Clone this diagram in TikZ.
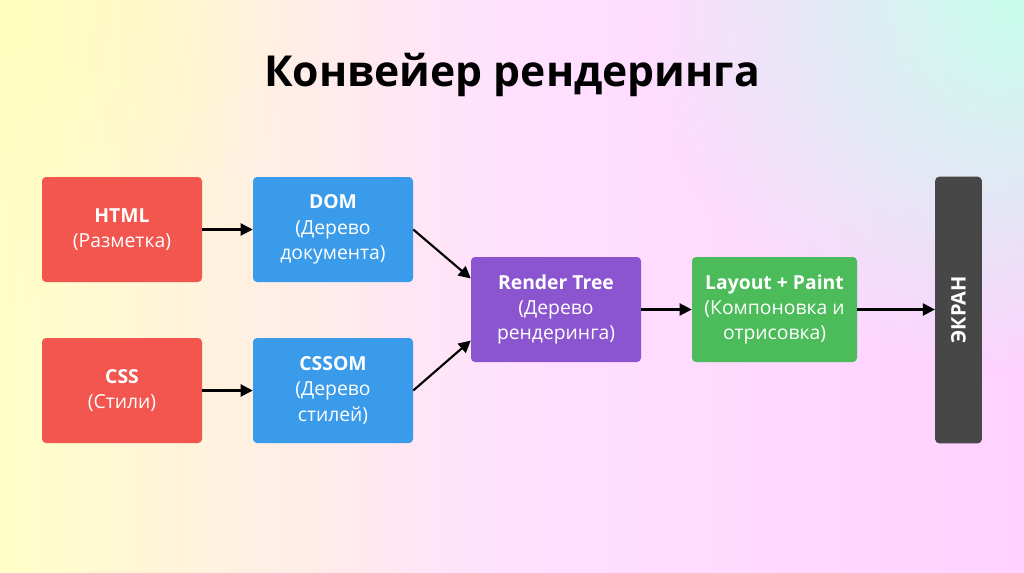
\documentclass[tikz,border=0pt]{standalone}
\usepackage{fontspec}
\setmainfont{Open Sans}
\usetikzlibrary{positioning,arrows.meta,fadings}
\definecolor{cred}{HTML}{F2564E}
\definecolor{cblue}{HTML}{3A9BEA}
\definecolor{cpurple}{HTML}{8C55D0}
\definecolor{cgreen}{HTML}{4CBB5A}
\definecolor{cgrey}{HTML}{474747}
\tikzfading[name=softglow, inner color=transparent!0, outer color=transparent!100]
\tikzset{
  stage/.style = {draw=none, rounded corners=3pt, text=white, align=center,
                  minimum width=120pt, minimum height=78.75pt, font=\fontsize{14.5}{19}\selectfont},
  link/.style  = {-{Triangle[length=9pt,width=9pt]}, line width=1.6pt, black}
}
\begin{document}
\begin{tikzpicture}[x=0.75pt, y=-0.75pt]
\useasboundingbox (0,0) rectangle (1024,572);
% background
\clip (0,0) rectangle (1024,572);
\shade[left color=yellow!22!white, right color=magenta!18!white, middle color=magenta!12!white]
  (0,0) rectangle (1024,572);
\fill[green!35!cyan!22!white, path fading=softglow] (1024,0) circle (380);
\fill[yellow!25!white, path fading=softglow] (0,0) circle (300);
% title
\node (title) at (512,75) {\fontsize{32}{38}\selectfont\bfseries Конвейер рендеринга};
% stages
\node (html)   [stage, fill=cred]    at (122,229.5) {\textbf{HTML}\\(Разметка)};
\node (css)    [stage, fill=cred]    at (122,390.5) {\textbf{CSS}\\(Стили)};
\node (dom)    [stage, fill=cblue]   at (333,229.5) {\textbf{DOM}\\(Дерево\\документа)};
\node (cssom)  [stage, fill=cblue]   at (333,390.5) {\textbf{CSSOM}\\(Дерево\\стилей)};
\node (render) [stage, fill=cpurple, minimum width=127.5pt] at (556,309.5) {\textbf{Render Tree}\\(Дерево\\рендеринга)};
\node (layout) [stage, fill=cgreen, minimum width=123.75pt] at (774.5,309.5) {\textbf{Layout + Paint}\\(Компоновка и\\отрисовка)};
\node (screen) [stage, fill=cgrey, minimum width=35pt, minimum height=200pt] at (958.5,310) {};
\node [rotate=90, text=white, font=\fontsize{15}{19}\selectfont\bfseries] at (screen.center) {ЭКРАН};
% links
\draw[link] (html) -- (dom);
\draw[link] (css) -- (cssom);
\draw[link] (dom.east) -- (render.160);
\draw[link] (cssom.east) -- (render.200);
\draw[link] (render) -- (layout);
\draw[link] (layout) -- (layout -| screen.west);
\end{tikzpicture}
\end{document}
